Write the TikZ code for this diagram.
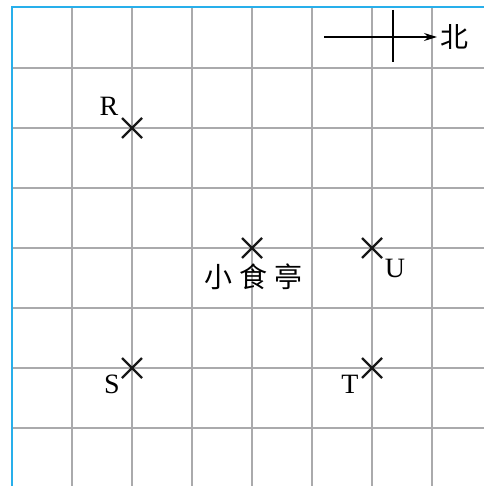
\documentclass[tikz,border=0pt]{standalone}
\usepackage{fontspec}
\setmainfont{Liberation Serif}
\newfontfamily\cjk{Noto Sans CJK SC}
\usetikzlibrary{arrows.meta,calc}
\definecolor{gridgray}{RGB}{170,170,172}
\definecolor{edgeblue}{RGB}{40,175,235}
\tikzset{
  gridline/.style={draw=gridgray,line width=1.5pt},
  edgeline/.style={draw=edgeblue,line width=2pt},
  crossmark/.style={draw=black!90,line width=2.2pt},
  ptlabel/.style={inner sep=0pt,font=\fontsize{28}{30}\selectfont},
  cnlabel/.style={inner sep=0pt,font=\cjk\fontsize{28}{30}\selectfont},
}
\begin{document}
\begin{tikzpicture}[x=1pt,y=-1pt]
\useasboundingbox (0,0) rectangle (484,486);
% grid
\foreach \gx in {72,132,192,252,312,372,432}
  \draw[gridline] (\gx,7) -- (\gx,486);
\foreach \gy in {68,128,188,248,308,368,428}
  \draw[gridline] (12,\gy) -- (484,\gy);
\draw[edgeline] (12,486) -- (12,7) -- (484,7);
% north arrow
\coordinate (nw) at (324,37);
\coordinate (ne) at (437,37);
\coordinate (nt) at (393,10);
\coordinate (nb) at (393,62);
\draw[line width=1.3pt,-{Stealth[length=13pt,width=8pt]}] (nw) -- (ne);
\draw[line width=1.3pt] (nt) -- (nb);
\node[cnlabel] (north) at (454,37) {北};
% points
\foreach \nm/\px/\py in {r/132/128,k/252/248,u/372/248,s/132/368,t/372/368}{
  \coordinate (\nm) at (\px,\py);
  \draw[crossmark] ($(\nm)+(-10,-10)$) -- ($(\nm)+(10,10)$);
  \draw[crossmark] ($(\nm)+(-10,10)$) -- ($(\nm)+(10,-10)$);
}
\node[ptlabel] (rl) at (109,106) {R};
\node[ptlabel] (ul) at (395,268) {U};
\node[ptlabel] (sl) at (112,384) {S};
\node[ptlabel] (tl) at (350,384) {T};
\node[cnlabel] (kl) at (253,277) {小\hspace{7pt}食\hspace{7pt}亭};
\end{tikzpicture}
\end{document}
